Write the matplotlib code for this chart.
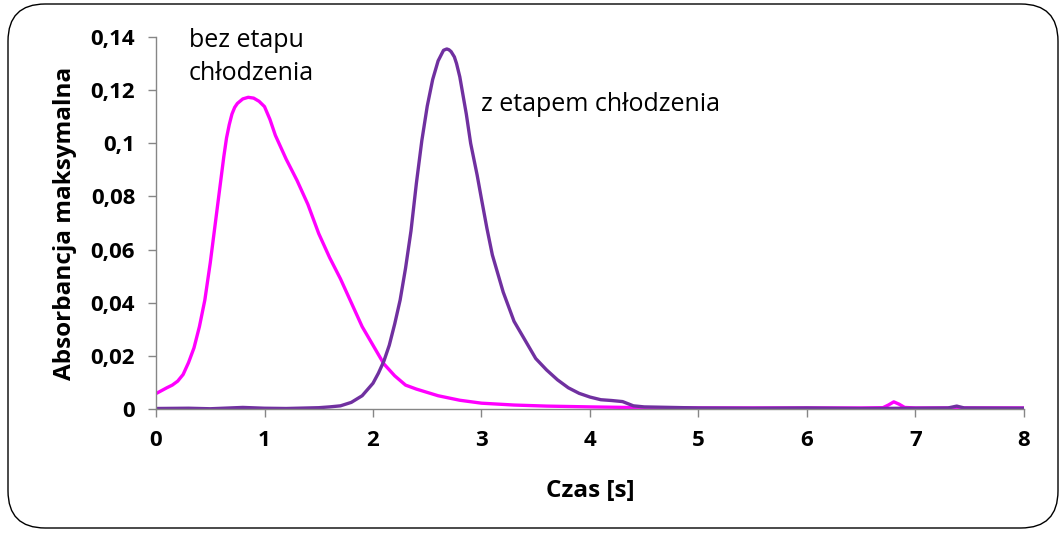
import matplotlib.pyplot as plt
from matplotlib.patches import FancyBboxPatch
from matplotlib.ticker import FuncFormatter

plt.rcParams['font.family'] = ['Open Sans', 'DejaVu Sans']

# time [s] and maximum absorbance, run without the cooling step
t_bez = [0.0, 0.1, 0.15, 0.2, 0.25, 0.3, 0.35, 0.4, 0.45, 0.5, 0.55, 0.6,
         0.625, 0.65, 0.675, 0.7, 0.725, 0.75, 0.8, 0.85, 0.9, 0.95, 1.0,
         1.05, 1.1, 1.2, 1.3, 1.4, 1.5, 1.6, 1.7, 1.8, 1.9, 2.0, 2.1, 2.2,
         2.3, 2.4, 2.6, 2.8, 3.0, 3.3, 3.6, 4.0, 4.5, 5.0, 5.5, 6.0, 6.5,
         6.7, 6.75, 6.8, 6.85, 6.9, 7.0, 7.5, 8.0]
a_bez = [0.0058, 0.0080, 0.0090, 0.0105, 0.0130, 0.0175, 0.0230, 0.0310,
         0.0410, 0.0550, 0.0710, 0.0870, 0.0950, 0.1020, 0.1070, 0.1110,
         0.1135, 0.1150, 0.1167, 0.1173, 0.1170, 0.1158, 0.1138, 0.1090,
         0.1030, 0.0940, 0.0860, 0.0770, 0.0660, 0.0570, 0.0490, 0.0400,
         0.0310, 0.0240, 0.0170, 0.0125, 0.0090, 0.0075, 0.0050, 0.0033,
         0.0022, 0.0015, 0.0011, 0.0008, 0.0005, 0.0004, 0.0004, 0.0004,
         0.0004, 0.0005, 0.0015, 0.0027, 0.0018, 0.0006, 0.0004, 0.0004,
         0.0004]

# same measurement with the cooling step
t_z = [0.0, 0.3, 0.5, 0.8, 1.0, 1.2, 1.4, 1.5, 1.6, 1.7, 1.8, 1.9, 2.0, 2.05,
       2.1, 2.15, 2.2, 2.25, 2.3, 2.35, 2.4, 2.45, 2.5, 2.55, 2.6, 2.62,
       2.65, 2.68, 2.7, 2.72, 2.75, 2.77, 2.8, 2.83, 2.86, 2.9, 2.96, 3.0,
       3.05, 3.1, 3.2, 3.3, 3.4, 3.5, 3.6, 3.7, 3.8, 3.9, 4.0, 4.1, 4.2, 4.3,
       4.4, 4.5, 5.0, 5.5, 6.0, 6.5, 7.0, 7.3, 7.38, 7.45, 8.0]
a_z = [0.0002, 0.0003, 0.0001, 0.0006, 0.0003, 0.0002, 0.0004, 0.0005,
       0.0008, 0.0012, 0.0025, 0.0050, 0.0097, 0.0135, 0.0180, 0.0240,
       0.0320, 0.0410, 0.0530, 0.0670, 0.0850, 0.1010, 0.1140, 0.1240,
       0.1310, 0.1326, 0.1350, 0.1355, 0.1352, 0.1345, 0.1325, 0.1300,
       0.1250, 0.1180, 0.1110, 0.1000, 0.0880, 0.0790, 0.0680, 0.0580,
       0.0440, 0.0330, 0.0260, 0.0190, 0.0147, 0.0110, 0.0080, 0.0059,
       0.0045, 0.0035, 0.0032, 0.0028, 0.0012, 0.0008, 0.0004, 0.0003,
       0.0004, 0.0002, 0.0003, 0.0004, 0.0011, 0.0004, 0.0003]

x_ticks = [0, 1, 2, 3, 4, 5, 6, 7, 8]
y_ticks = [0, 0.02, 0.04, 0.06, 0.08, 0.10, 0.12, 0.14]

fig = plt.figure(figsize=(10.62, 5.33), dpi=100)
ax = fig.add_axes([0.1469, 0.2326, 0.8173, 0.698])

ax.plot(t_bez, a_bez, color='#FF00FF', lw=2.4, solid_capstyle='round',
        solid_joinstyle='round')
ax.plot(t_z, a_z, color='#7030A0', lw=2.4, solid_capstyle='round',
        solid_joinstyle='round')

ax.set_xlim(0, 8)
ax.set_ylim(0, 0.14)
ax.set_xticks(x_ticks)
ax.set_yticks(y_ticks)
ax.yaxis.set_major_formatter(FuncFormatter(
    lambda v, p: '0' if v == 0 else f'{v:.2f}'.rstrip('0').replace('.', ',')))

for side in ['top', 'right']:
    ax.spines[side].set_visible(False)
for side in ['left', 'bottom']:
    ax.spines[side].set_color('#868686')
    ax.spines[side].set_linewidth(1.0)
ax.tick_params(direction='out', length=6, width=1.0, color='#868686',
               labelsize=16, pad=9)
for lab in ax.get_xticklabels() + ax.get_yticklabels():
    lab.set_fontweight('bold')

ax.set_xlabel('Czas [s]', fontsize=17.5, fontweight='bold', labelpad=20)
ax.set_ylabel('Absorbancja maksymalna', fontsize=17.5, fontweight='bold',
              labelpad=10)

ax.text(0.3, 0.1432, 'bez etapu\nchłodzenia', fontsize=18, va='top',
        ha='left', linespacing=1.38)
ax.text(3.0, 0.1146, 'z etapem chłodzenia', fontsize=18, va='center',
        ha='left')

# rounded frame round the whole chart
frame = FancyBboxPatch((8 / 1062, 5 / 533), 1050 / 1062, 524 / 533,
                       boxstyle='round,pad=0,rounding_size=0.035',
                       transform=fig.transFigure, facecolor='none',
                       edgecolor='black', linewidth=1.0,
                       mutation_aspect=1062 / 533)
fig.patches.append(frame)

fig.savefig('out.png', dpi=100)
